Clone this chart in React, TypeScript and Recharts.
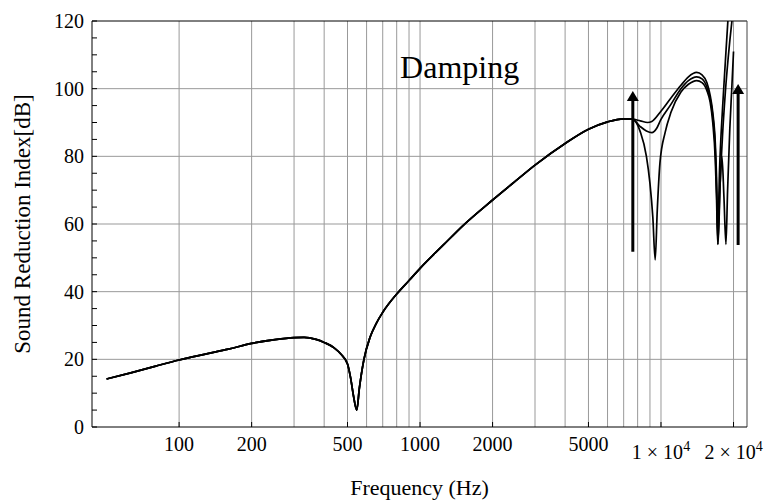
import {
  CartesianGrid,
  Line,
  LineChart,
  ReferenceDot,
  ReferenceLine,
  XAxis,
  YAxis,
} from "recharts";

const FONT = '"Liberation Serif", "DejaVu Serif", "Times New Roman", serif';

// part of the curve that is the same for every damping value
const sharedFreqs = [
  50, 63, 80, 100, 130, 160, 200, 250, 300, 330, 370, 400, 440, 470, 500, 515,
  530, 546, 560, 585, 620, 660, 700, 800, 900, 1000, 1250, 1500, 2000, 2500,
  3000, 4000, 5000, 6000, 7000, 7600,
];
const sharedLevels = [
  14.2, 16.0, 18.0, 19.8, 21.6, 23.0, 24.7, 25.8, 26.4, 26.5, 25.9, 25.0, 23.4,
  21.5, 18.6, 14.5, 9.0, 5.0, 11.5, 20.0, 26.5, 30.8, 33.9, 39.3, 43.3, 46.9,
  53.8, 59.4, 67.1, 72.8, 77.4, 83.8, 88.0, 90.2, 91.1, 91.0,
];

// low damping
const freqsLow = [
  8200, 8700, 9000, 9250, 9460, 9650, 9900, 10400, 11000, 12100, 13000, 14060,
  14800, 15500, 16000, 16400, 16800, 17000, 17200, 17550, 17900, 18250, 18600,
  18900, 19300, 19700, 20000,
];
const levelsLow = [
  87.3, 80, 72, 62, 49.4, 64, 78, 87, 93, 99, 101.3, 102.4, 101.8, 99.5, 96, 90,
  79, 68, 54, 70, 80, 68, 54, 70, 88, 101, 111,
];

// medium damping
const freqsMid = [
  8200, 8700, 9160, 9600, 9960, 10960, 12100, 13000, 14060, 14800, 15500, 16000,
  16400, 16800, 17000, 17250, 17600, 18000, 18500, 19000, 19700, 20000,
];
const levelsMid = [
  88.8, 87.5, 87.0, 88.3, 90.7, 95.2, 100, 102.4, 103.5, 102.9, 100.5, 97, 92,
  82, 71, 54, 72, 86, 99, 109, 120, 124,
];

// high damping
const freqsHigh = [
  8200, 8800, 9160, 9960, 10960, 12100, 13000, 14060, 14800, 15500, 16000,
  16400, 16800, 17000, 17200, 17500, 18000, 18500, 18950, 20000,
];
const levelsHigh = [
  90.5, 90.0, 90.3, 93.2, 97.1, 101, 103.5, 104.8, 104.1, 101.8, 98, 93, 84,
  74, 57, 76, 94, 108, 120, 138,
];

const xTicks = [100, 200, 500, 1000, 2000, 5000, 10000, 20000];
const gridFreqs = [
  100, 200, 300, 400, 500, 600, 700, 800, 900, 1000, 2000, 3000, 4000, 5000,
  6000, 7000, 8000, 9000, 10000, 20000,
];
const yTicks = [
  0, 5, 10, 15, 20, 25, 30, 35, 40, 45, 50, 55, 60, 65, 70, 75, 80, 85, 90, 95,
  100, 105, 110, 115, 120,
];
const yGrid = [20, 40, 60, 80, 100];

const arrowFreqs = [7640, 20900];
const arrowBase = [51.8, 53.8];
const arrowTip = [99.3, 101.4];

const annotationFreq = 1460;
const annotationLevel = 103.2;

const toSeries = (f: number[], v: number[]) =>
  f.map((x, i) => ({ f: x, v: v[i] }));

const seriesLow = toSeries([...sharedFreqs, ...freqsLow], [...sharedLevels, ...levelsLow]);
const seriesMid = toSeries([...sharedFreqs, ...freqsMid], [...sharedLevels, ...levelsMid]);
const seriesHigh = toSeries([...sharedFreqs, ...freqsHigh], [...sharedLevels, ...levelsHigh]);

const X_DOMAIN: [number, number] = [43.5, 22750];
const Y_DOMAIN: [number, number] = [0, 120];

function XTick({ x, y, payload }: any) {
  const v = payload.value as number;
  if (v >= 10000) {
    return (
      <text x={x} y={y} dy={22} textAnchor="middle" style={{ fontFamily: FONT }} fontSize={20} fill="#000">
        {`${v / 10000} × 10`}
        <tspan dy={-8} fontSize={14}>
          4
        </tspan>
      </text>
    );
  }
  return (
    <text x={x} y={y} dy={14} textAnchor="middle" style={{ fontFamily: FONT }} fontSize={20} fill="#000">
      {v}
    </text>
  );
}

function YTick({ x, y, payload }: any) {
  const v = payload.value as number;
  if (v % 20 !== 0) return <g />;
  return (
    <text x={x} y={y} dy={7} textAnchor="end" style={{ fontFamily: FONT }} fontSize={20} fill="#000">
      {v}
    </text>
  );
}

export default function App() {
  return (
    <div style={{ position: "absolute", left: 0, top: 0, fontFamily: FONT }}>
      <LineChart
        width={766}
        height={502}
        margin={{ top: 21, right: 19, bottom: 0, left: 0 }}
      >
        <CartesianGrid
          xAxisId="b"
          yAxisId="l"
          verticalValues={gridFreqs}
          horizontalValues={yGrid}
          stroke="#999"
        />
        <XAxis
          xAxisId="b"
          dataKey="f"
          type="number"
          scale="log"
          domain={X_DOMAIN}
          allowDataOverflow
          ticks={xTicks}
          interval={0}
          height={75}
          tickSize={-5}
          tickMargin={15}
          tick={XTick}
          axisLine={{ stroke: "#000" }}
          tickLine={{ stroke: "#000" }}
          label={{
            value: "Frequency (Hz)",
            position: "insideBottom",
            offset: 7,
            fill: "#000",
            fontSize: 22,
            style: { fontFamily: FONT },
          }}
        />
        <XAxis
          xAxisId="t"
          orientation="top"
          dataKey="f"
          type="number"
          scale="log"
          domain={X_DOMAIN}
          allowDataOverflow
          ticks={xTicks}
          interval={0}
          height={0}
          tickSize={-5}
          tick={false}
          axisLine={{ stroke: "#000" }}
          tickLine={{ stroke: "#000" }}
        />
        <YAxis
          yAxisId="l"
          type="number"
          domain={Y_DOMAIN}
          allowDataOverflow
          ticks={yTicks}
          interval={0}
          width={92}
          tickSize={-5}
          tickMargin={13}
          tick={YTick}
          axisLine={{ stroke: "#000" }}
          tickLine={{ stroke: "#000" }}
          label={{
            value: "Sound Reduction Index[dB]",
            angle: -90,
            position: "insideLeft",
            offset: 22,
            fill: "#000",
            fontSize: 23,
            style: { textAnchor: "middle", fontFamily: FONT },
          }}
        />
        <YAxis
          yAxisId="r"
          orientation="right"
          type="number"
          domain={Y_DOMAIN}
          ticks={yTicks}
          interval={0}
          width={0}
          tickSize={-5}
          tick={false}
          axisLine={{ stroke: "#333" }}
          tickLine={{ stroke: "#000" }}
        />
        {/* frame: top and right edges */}
        <ReferenceLine xAxisId="b" yAxisId="l" y={Y_DOMAIN[1]} stroke="#000" />
        <ReferenceLine xAxisId="b" yAxisId="l" x={X_DOMAIN[1]} stroke="#444" />
        <Line
          data={seriesLow}
          dataKey="v"
          xAxisId="b"
          yAxisId="l"
          type="monotone"
          dot={false}
          stroke="#000"
          strokeWidth={1.7}
          isAnimationActive={false}
        />
        <Line
          data={seriesMid}
          dataKey="v"
          xAxisId="b"
          yAxisId="l"
          type="monotone"
          dot={false}
          stroke="#000"
          strokeWidth={1.7}
          isAnimationActive={false}
        />
        <Line
          data={seriesHigh}
          dataKey="v"
          xAxisId="b"
          yAxisId="l"
          type="monotone"
          dot={false}
          stroke="#000"
          strokeWidth={1.7}
          isAnimationActive={false}
        />
        {arrowFreqs.map((f, i) => (
          <ReferenceLine
            key={`shaft-${f}`}
            xAxisId="b"
            yAxisId="l"
            segment={[
              { x: f, y: arrowBase[i] },
              { x: f, y: arrowTip[i] - 2 },
            ]}
            stroke="#000"
            strokeWidth={3}
          />
        ))}
        {arrowFreqs.map((f, i) => (
          <ReferenceDot
            key={`head-${f}`}
            xAxisId="b"
            yAxisId="l"
            x={f}
            y={arrowTip[i]}
            r={0}
            shape={(p: any) => (
              <polygon
                points={`${p.cx},${p.cy} ${p.cx - 6},${p.cy + 10} ${p.cx + 6},${p.cy + 10}`}
                fill="#000"
              />
            )}
          />
        ))}
        <ReferenceDot
          xAxisId="b"
          yAxisId="l"
          x={annotationFreq}
          y={annotationLevel}
          r={0}
          shape={(p: any) => (
            <text
              x={p.cx}
              y={p.cy}
              textAnchor="middle"
              style={{ fontFamily: FONT }}
              fontSize={32}
              fill="#000"
            >
              Damping
            </text>
          )}
        />
      </LineChart>
    </div>
  );
}
